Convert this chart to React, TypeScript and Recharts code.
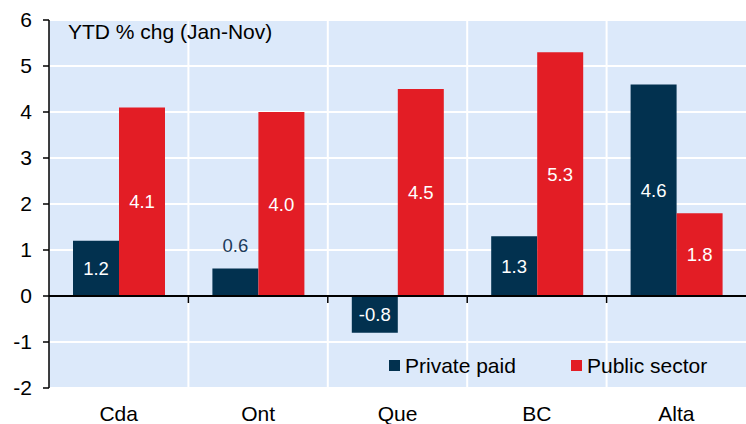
import React from "react"
import {
  BarChart,
  Bar,
  XAxis,
  YAxis,
  CartesianGrid,
  ReferenceLine,
  LabelList,
  Legend,
} from "recharts"

const categories = ["Cda", "Ont", "Que", "BC", "Alta"]
const privatePaid = [1.2, 0.6, -0.8, 1.3, 4.6]
const publicSector = [4.1, 4.0, 4.5, 5.3, 1.8]
const yTicks = [-2, -1, 0, 1, 2, 3, 4, 5, 6]

const NAVY = "#02314f"
const RED = "#e31d25"
const BG = "#dce9fa"
const FONT = "'Liberation Sans', Arial, sans-serif"

const data = categories.map((name, i) => ({
  name,
  priv: privatePaid[i],
  pub: publicSector[i],
}))

// boundaries between categories: white separators + small ticks under the zero line
const n = categories.length
const innerBounds = categories.map((_, i) => i).slice(1)

const separators = ({ offset }: any) =>
  innerBounds.map((b) => offset.left + (b * offset.width) / n)

const zeroLine = (p: any) => {
  const { x1, x2, y1 } = p
  return (
    <g>
      <line x1={x1} x2={x2} y1={y1} y2={y1} stroke="#000" strokeWidth={2} />
      {innerBounds.map((b) => {
        const x = x1 + (b * (x2 - x1)) / n
        return <line key={b} x1={x} x2={x} y1={y1} y2={y1 + 7} stroke="#000" strokeWidth={1.5} />
      })}
    </g>
  )
}

const barLabel = (props: any) => {
  const { x, y, width, height, value } = props
  const cx = x + width / 2
  const text = Number(value).toFixed(1)
  if (value > 0 && Math.abs(height) < 40) {
    return (
      <text x={cx} y={Math.min(y, y + height) - 16} textAnchor="middle" fill="#1d3b5b" fontSize={18.5} fontFamily={FONT}>
        {text}
      </text>
    )
  }
  return (
    <text x={cx} y={y + height / 2} dy={6.5} textAnchor="middle" fill="#fff" fontSize={18.5} fontFamily={FONT}>
      {text}
    </text>
  )
}

const legendContent = (props: any) => {
  const items = props.payload || []
  return (
    <div style={{ display: "flex", fontFamily: FONT, fontSize: 21, color: "#000" }}>
      {items.map((it: any, i: number) => (
        <div key={i} style={{ display: "flex", alignItems: "center", height: 22, width: i === 0 ? 182 : "auto" }}>
          <span style={{ display: "inline-block", width: 11, height: 11, background: it.color, marginRight: 5 }} />
          <span style={{ lineHeight: "21px" }}>{it.value}</span>
        </div>
      ))}
    </div>
  )
}

export default function App() {
  return (
    <div style={{ position: "absolute", left: 0, top: 0, width: 746, height: 424, background: "#fff" }}>
      <BarChart
        width={746}
        height={424}
        data={data}
        margin={{ top: 20, right: 0, bottom: 0, left: 0 }}
        barSize={46}
        barGap={0}
      >
        <CartesianGrid
          fill={BG}
          stroke="#ffffff"
          strokeWidth={2}
          verticalCoordinatesGenerator={separators}
        />
        <XAxis
          dataKey="name"
          height={36}
          tickLine={false}
          axisLine={false}
          tickSize={0}
          tickMargin={18}
          tick={{ fill: "#000", fontSize: 21, fontFamily: FONT }}
        />
        <YAxis
          width={49}
          domain={[-2, 6]}
          ticks={yTicks}
          interval={0}
          axisLine={{ stroke: "#000", strokeWidth: 1.5 }}
          tickLine={{ stroke: "#000", strokeWidth: 1.5 }}
          tickSize={6}
          tickMargin={11}
          tick={{ fill: "#000", fontSize: 21, fontFamily: FONT }}
        />
        <Bar dataKey="priv" name="Private paid" fill={NAVY} isAnimationActive={false}>
          <LabelList dataKey="priv" content={barLabel} />
        </Bar>
        <Bar dataKey="pub" name="Public sector" fill={RED} isAnimationActive={false}>
          <LabelList dataKey="pub" content={barLabel} />
        </Bar>
        <ReferenceLine y={0} shape={zeroLine} />
        <Legend
          content={legendContent}
          layout="horizontal"
          verticalAlign="middle"
          align="center"
          wrapperStyle={{ position: "absolute", left: 389, top: 354, width: "auto" }}
        />
      </BarChart>
      <div
        style={{
          position: "absolute",
          left: 68,
          top: 21,
          fontFamily: FONT,
          fontSize: 21,
          lineHeight: "21px",
          color: "#000",
          whiteSpace: "nowrap",
        }}
      >
        YTD % chg (Jan-Nov)
      </div>
    </div>
  )
}
